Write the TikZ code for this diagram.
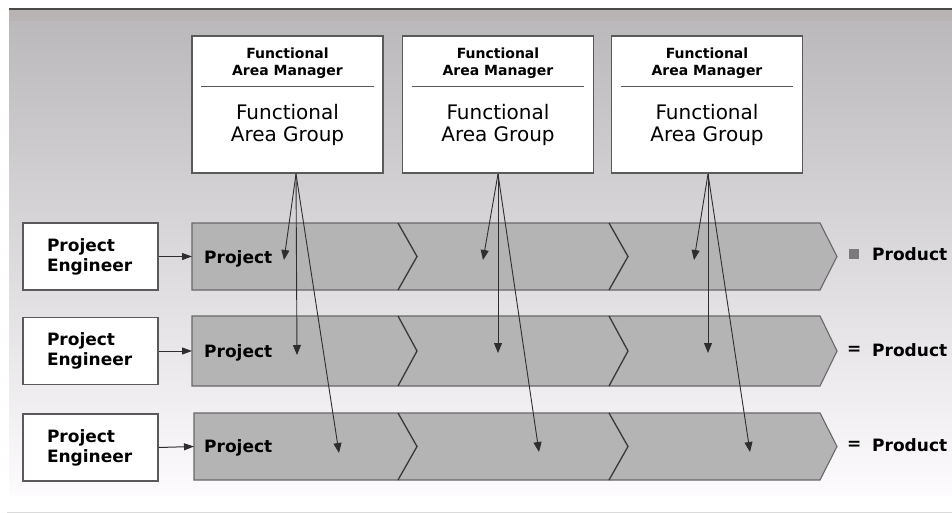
\documentclass[tikz,border=0pt]{standalone}
\usepackage{fontspec}
\setmainfont{DejaVu Sans}
\usetikzlibrary{arrows.meta,calc}

\definecolor{barfill}{HTML}{B4B4B4}
\definecolor{barline}{HTML}{686868}
\definecolor{notchline}{HTML}{383838}
\definecolor{boxline}{HTML}{5A5A5A}
\definecolor{arrowcol}{HTML}{2E2E2E}
\definecolor{bgtop}{HTML}{B9B7BA}
\definecolor{bgband}{HTML}{B9B4B4}
\definecolor{bgbot}{HTML}{FDFBFD}
\definecolor{topline}{HTML}{4A4A4A}
\definecolor{footline}{HTML}{DADADA}
\definecolor{markfill}{HTML}{7A7A7A}

\begin{document}
\begin{tikzpicture}[x=1pt,y=-1pt,
  fabox/.style={draw=boxline, line width=1.3pt, fill=white,
    minimum width=191pt, minimum height=137pt, inner sep=0pt},
  pebox/.style={draw=boxline, line width=1.3pt, fill=white,
    minimum width=135pt, minimum height=67pt, inner xsep=24pt, inner ysep=0pt,
    text width=87pt, align=left, font=\bfseries\fontsize{17}{20}\selectfont},
  mgrtext/.style={font=\bfseries\fontsize{14}{17}\selectfont, align=center, inner sep=0pt},
  grptext/.style={font=\fontsize{20}{22.5}\selectfont, align=center, inner sep=0pt},
  lbl/.style={font=\bfseries\fontsize{17}{20}\selectfont, inner sep=0pt},
  bar/.style={draw=barline, line width=1.1pt, fill=barfill, line join=miter},
  notch/.style={draw=notchline, line width=1.3pt},
  link/.style={draw=arrowcol, line width=0.9pt, -{Triangle[width=8pt,length=10pt]}},
  feed/.style={draw=arrowcol, line width=1pt, -{Triangle[width=7pt,length=10pt]}},
]
\useasboundingbox (0,0) rectangle (952,513);

% backdrop panel with vertical fade
\fill[white] (0,0) rectangle (952,513);
\fill[top color=bgtop, bottom color=bgbot] (9,10) rectangle (952,495);
\fill[bgband] (9,10) rectangle (952,21);
\draw[color=topline, line width=2pt] (9,9) -- (952,9);
\draw[color=footline, line width=1pt] (7,512) -- (952,512);

% functional area boxes
\foreach \i/\cx in {1/287.5, 2/498, 3/707} {
  \node[fabox] (fa\i) at (\cx,104.5) {};
  \node[mgrtext] (mgr\i) at (\cx,63) {Functional\\Area Manager};
  \draw[boxline, line width=1pt] ($(fa\i.north west)+(10,51)$) -- ($(fa\i.north east)+(-10,51)$);
  \node[grptext] (grp\i) at (\cx,125) {Functional\\Area Group};
}

% project bars (chevron rows)
\foreach \r/\xl/\yt/\yb in {1/192/223/290, 2/192/316/386, 3/194/413/480} {
  \pgfmathsetmacro{\ym}{(\yt+\yb)/2}
  \draw[bar] (\xl,\yt) -- (820,\yt) -- (837,\ym) -- (820,\yb) -- (\xl,\yb) -- cycle;
  \draw[notch] (398,\yt) -- (417,\ym) -- (398,\yb);
  \draw[notch] (609,\yt) -- (628,\ym) -- (609,\yb);
  \coordinate (bar\r) at (\xl,\ym);
}

% project labels inside the bars
\node[lbl, anchor=west] (proj1) at (204,259) {Project};
\node[lbl, anchor=west] (proj2) at (204,353) {Project};
\node[lbl, anchor=west] (proj3) at (204,448) {Project};

% project engineers feeding the bars
\node[pebox] (pe1) at (90.5,256.5) {Project\\Engineer};
\node[pebox] (pe2) at (90.5,351) {Project\\Engineer};
\node[pebox] (pe3) at (90.5,447.5) {Project\\Engineer};
\draw[feed] (pe1.east) -- (bar1);
\draw[feed] (pe2.east) -- (bar2);
\draw[feed] (pe3.east) -- (bar3);

% product results
\node[fill=markfill, minimum size=10pt, inner sep=0pt] (mark1) at (854,254) {};
\node[lbl, anchor=west] (prod1) at (872,254) {Product};
\node[lbl, anchor=west] (eq2) at (847,350) {=};
\node[lbl, anchor=west] (prod2) at (872,350) {Product};
\node[lbl, anchor=west] (eq3) at (847,445) {=};
\node[lbl, anchor=west] (prod3) at (872,445) {Product};

% staffing links from each functional group into every project
\coordinate (src1) at (296,174);
\coordinate (src2) at (498,174);
\coordinate (src3) at (708,174);
\coordinate (t11) at (284,260);
\coordinate (t12) at (297,355);
\coordinate (t13) at (339,453);
\coordinate (t21) at (483,260);
\coordinate (t22) at (498,353);
\coordinate (t23) at (539,452);
\coordinate (t31) at (694,260);
\coordinate (t32) at (708,353);
\coordinate (t33) at (750,452);
\foreach \i in {1,2,3} {
  \foreach \j in {1,2,3} {
    \draw[link] (src\i) -- (t\i\j);
  }
}
\end{tikzpicture}
\end{document}
